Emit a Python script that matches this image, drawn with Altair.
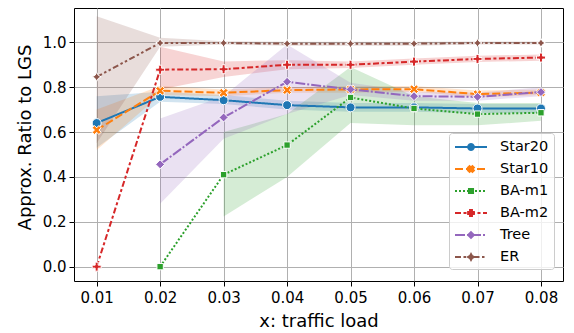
import math
import altair as alt
import pandas as pd

# ---------------- data ----------------
loads = [0.01, 0.02, 0.03, 0.04, 0.05, 0.06, 0.07, 0.08]
series_names = ["Star20", "Star10", "BA-m1", "BA-m2", "Tree", "ER"]

star20_mean = [0.640, 0.757, 0.742, 0.720, 0.710, 0.710, 0.705, 0.705]
star20_lo = [0.530, 0.735, 0.725, 0.700, 0.690, 0.690, 0.685, 0.685]
star20_hi = [0.760, 0.780, 0.765, 0.740, 0.730, 0.730, 0.725, 0.725]

star10_mean = [0.609, 0.784, 0.775, 0.787, 0.790, 0.791, 0.769, 0.776]
star10_lo = [0.520, 0.765, 0.760, 0.775, 0.775, 0.780, 0.755, 0.765]
star10_hi = [0.700, 0.805, 0.790, 0.800, 0.805, 0.805, 0.785, 0.790]

bam1_mean = [None, 0.000, 0.410, 0.542, 0.754, 0.705, 0.680, 0.686]
bam1_lo = [None, None, 0.224, 0.400, 0.640, 0.630, 0.630, 0.650]
bam1_hi = [None, None, 0.600, 0.680, 0.890, 0.760, 0.730, 0.730]

bam2_mean = [0.000, 0.878, 0.880, 0.900, 0.900, 0.914, 0.926, 0.932]
bam2_lo = [None, 0.790, 0.845, 0.880, 0.885, 0.900, 0.912, 0.918]
bam2_hi = [None, 0.980, 0.915, 0.920, 0.915, 0.928, 0.940, 0.946]

tree_mean = [None, 0.456, 0.665, 0.824, 0.790, 0.760, 0.757, 0.778]
tree_lo = [None, 0.280, 0.570, 0.680, 0.765, 0.740, 0.740, 0.760]
tree_hi = [None, 0.660, 0.760, 0.990, 0.820, 0.780, 0.775, 0.800]

er_mean = [0.846, 0.997, 0.997, 0.994, 0.994, 0.994, 0.997, 0.997]
er_lo = [0.550, 0.980, 0.990, 0.985, 0.985, 0.985, 0.990, 0.990]
er_hi = [1.116, 1.020, 1.005, 1.003, 1.003, 1.003, 1.004, 1.004]

x_ticks = [0.01, 0.02, 0.03, 0.04, 0.05, 0.06, 0.07, 0.08]
y_ticks = [0.0, 0.2, 0.4, 0.6, 0.8, 1.0]

# ---------------- styles ----------------
colors = ["#1f77b4", "#ff7f0e", "#2ca02c", "#d62728", "#9467bd", "#8c564b"]
dashes_px = [[], [8, 3], [2, 2], [6, 2.5, 3, 2.5], [10, 2, 2, 2],
             [6, 2.5, 2.5, 2.5, 2.5, 2.5]]

table = {
    "Star20": (star20_mean, star20_lo, star20_hi),
    "Star10": (star10_mean, star10_lo, star10_hi),
    "BA-m1": (bam1_mean, bam1_lo, bam1_hi),
    "BA-m2": (bam2_mean, bam2_lo, bam2_hi),
    "Tree": (tree_mean, tree_lo, tree_hi),
    "ER": (er_mean, er_lo, er_hi),
}
rows, band_rows = [], []
for name in series_names:
    m, lo, hi = table[name]
    for i, x in enumerate(loads):
        if m[i] is not None:
            rows.append({"series": name, "x": x, "mean": m[i]})
        if lo[i] is not None:
            band_rows.append({"series": name, "x": x, "lo": lo[i], "hi": hi[i]})
df = pd.DataFrame(rows)
df_band = pd.DataFrame(band_rows)


# marker geometry (unit box -1..1)
def poly(pts, s=1.0, dx=0.0):
    return "M" + "L".join(f"{px * s + dx:.3f},{py * s:.3f}" for px, py in pts) + "Z"


X_PTS = [(-0.5, -1), (0, -0.5), (0.5, -1), (1, -0.5), (0.5, 0), (1, 0.5),
         (0.5, 1), (0, 0.5), (-0.5, 1), (-1, 0.5), (-0.5, 0), (-1, -0.5)]
t = 1 / 3
P_PTS = [(-t, -1), (t, -1), (t, -t), (1, -t), (1, t), (t, t),
         (t, 1), (-t, 1), (-t, t), (-1, t), (-1, -t), (-t, -t)]
q = 0.7071
SQ_PTS = [(-q, -q), (q, -q), (q, q), (-q, q)]
D_PTS = [(0, -1), (1, 0), (0, 1), (-1, 0)]
STAR_PTS = []
for k in range(8):
    ang = math.pi / 2 + k * math.pi / 4
    r = 1.0 if k % 2 == 0 else 0.5
    STAR_PTS.append((r * math.cos(ang), -r * math.sin(ang)))
CIRC_PTS = [(math.cos(2 * math.pi * k / 20), math.sin(2 * math.pi * k / 20)) for k in range(20)]

point_shapes = ["circle", poly(X_PTS), poly(SQ_PTS), poly(P_PTS), "diamond", poly(STAR_PTS)]

# legend symbol: 16px symbol box (8px per unit), line 32px from x=-1 to x=3 units
UNIT = 8.0


def dash_path(pattern, total=32.0):
    if not pattern:
        return "M-1,0L3,0"
    out, pos, i = [], 0.0, 0
    while pos < total:
        seg = pattern[i % len(pattern)]
        end = min(pos + seg, total)
        if i % 2 == 0:
            out.append(f"M{pos / UNIT - 1:.3f},0L{end / UNIT - 1:.3f},0")
        pos += seg
        i += 1
    return "".join(out)


ms = 0.36
legend_markers = [poly(CIRC_PTS, ms, 1), poly(X_PTS, ms, 1), poly(SQ_PTS, ms, 1),
                  poly(P_PTS, ms, 1), poly(D_PTS, ms, 1), poly(STAR_PTS, ms, 1)]
legend_shapes = [dash_path(d) + m for d, m in zip(dashes_px, legend_markers)]

FONT = "DejaVu Sans"
x_scale = alt.Scale(domain=[0.00643, 0.08347], nice=False, zero=False)
y_scale = alt.Scale(domain=[-0.064, 1.153], nice=False, zero=False)
color_scale = alt.Scale(domain=series_names, range=colors)

x_enc = alt.X("x:Q", scale=x_scale,
              axis=alt.Axis(values=x_ticks, format=".2f", title="x: traffic load",
                            titleY=45, titleBaseline="alphabetic"))
y_axis = alt.Axis(values=y_ticks, format=".1f", title="Approx. Ratio to LGS",
                  titleX=-44, titleY=129, titleBaseline="alphabetic")

bands = alt.Chart(df_band).mark_area(opacity=0.2).encode(
    x=x_enc,
    y=alt.Y("lo:Q", scale=y_scale, axis=y_axis),
    y2=alt.Y2("hi:Q"),
    color=alt.Color("series:N", scale=color_scale, legend=None),
)

base = alt.Chart(df)

lines = base.mark_line(strokeWidth=2).encode(
    x=alt.X("x:Q", scale=x_scale),
    y=alt.Y("mean:Q", scale=y_scale),
    color=alt.Color("series:N", scale=color_scale, legend=None),
    strokeDash=alt.StrokeDash("series:N",
                              scale=alt.Scale(domain=series_names,
                                              range=[d if d else [1, 0] for d in dashes_px]),
                              legend=None),
)

point_layers = []
for name, shp in zip(series_names, point_shapes):
    point_layers.append(
        base.transform_filter(alt.datum.series == name).mark_point(
            filled=True, opacity=1, stroke="white", strokeWidth=1, size=81, shape=shp
        ).encode(
            x=alt.X("x:Q", scale=x_scale),
            y=alt.Y("mean:Q", scale=y_scale),
            color=alt.Color("series:N", scale=color_scale, legend=None),
        )
    )

leg = alt.Legend(title=None, orient="none", legendX=375, legendY=125,
                 fillColor="rgba(255,255,255,0.8)", strokeColor="#cccccc",
                 cornerRadius=3, padding=5, labelFont=FONT, labelFontSize=14.5,
                 labelColor="black", symbolSize=256, symbolStrokeWidth=2,
                 symbolFillColor="#888888", symbolStrokeColor="#888888",
                 symbolOpacity=1, labelOffset=28, rowPadding=6)

# invisible carrier for the legend: positioned below the plot area and clipped
legend_layer = base.transform_calculate(off="datum.mean - 5").mark_point(
    filled=True, strokeWidth=2, clip=True).encode(
    x=alt.X("x:Q", scale=x_scale),
    y=alt.Y("off:Q", scale=y_scale),
    fill=alt.Fill("series:N", scale=alt.Scale(domain=series_names, range=colors), legend=leg),
    stroke=alt.Stroke("series:N", scale=alt.Scale(domain=series_names, range=colors),
                      legend=leg),
    shape=alt.Shape("series:N", scale=alt.Scale(domain=series_names, range=legend_shapes),
                    legend=leg),
)

chart = alt.layer(bands, lines, *point_layers, legend_layer).resolve_scale(
    fill="independent", stroke="independent", shape="independent"
).properties(
    width=489, height=273,
    autosize=alt.AutoSizeParams(type="none"),
    padding={"left": 66, "top": 0, "right": 3, "bottom": 50},
).configure_view(
    stroke="black", strokeWidth=1
).configure_axis(
    labelFont=FONT, titleFont=FONT, labelFontSize=15, titleFontSize=18,
    labelColor="black", titleColor="black", titleFontWeight="normal",
    gridColor="#b0b0b0", gridWidth=1, grid=True, domain=False,
    tickColor="black", tickSize=5, labelPadding=3,
).configure_axisX(labelPadding=4)

chart.save("out.html", embed_options={"renderer": "svg", "actions": False})
